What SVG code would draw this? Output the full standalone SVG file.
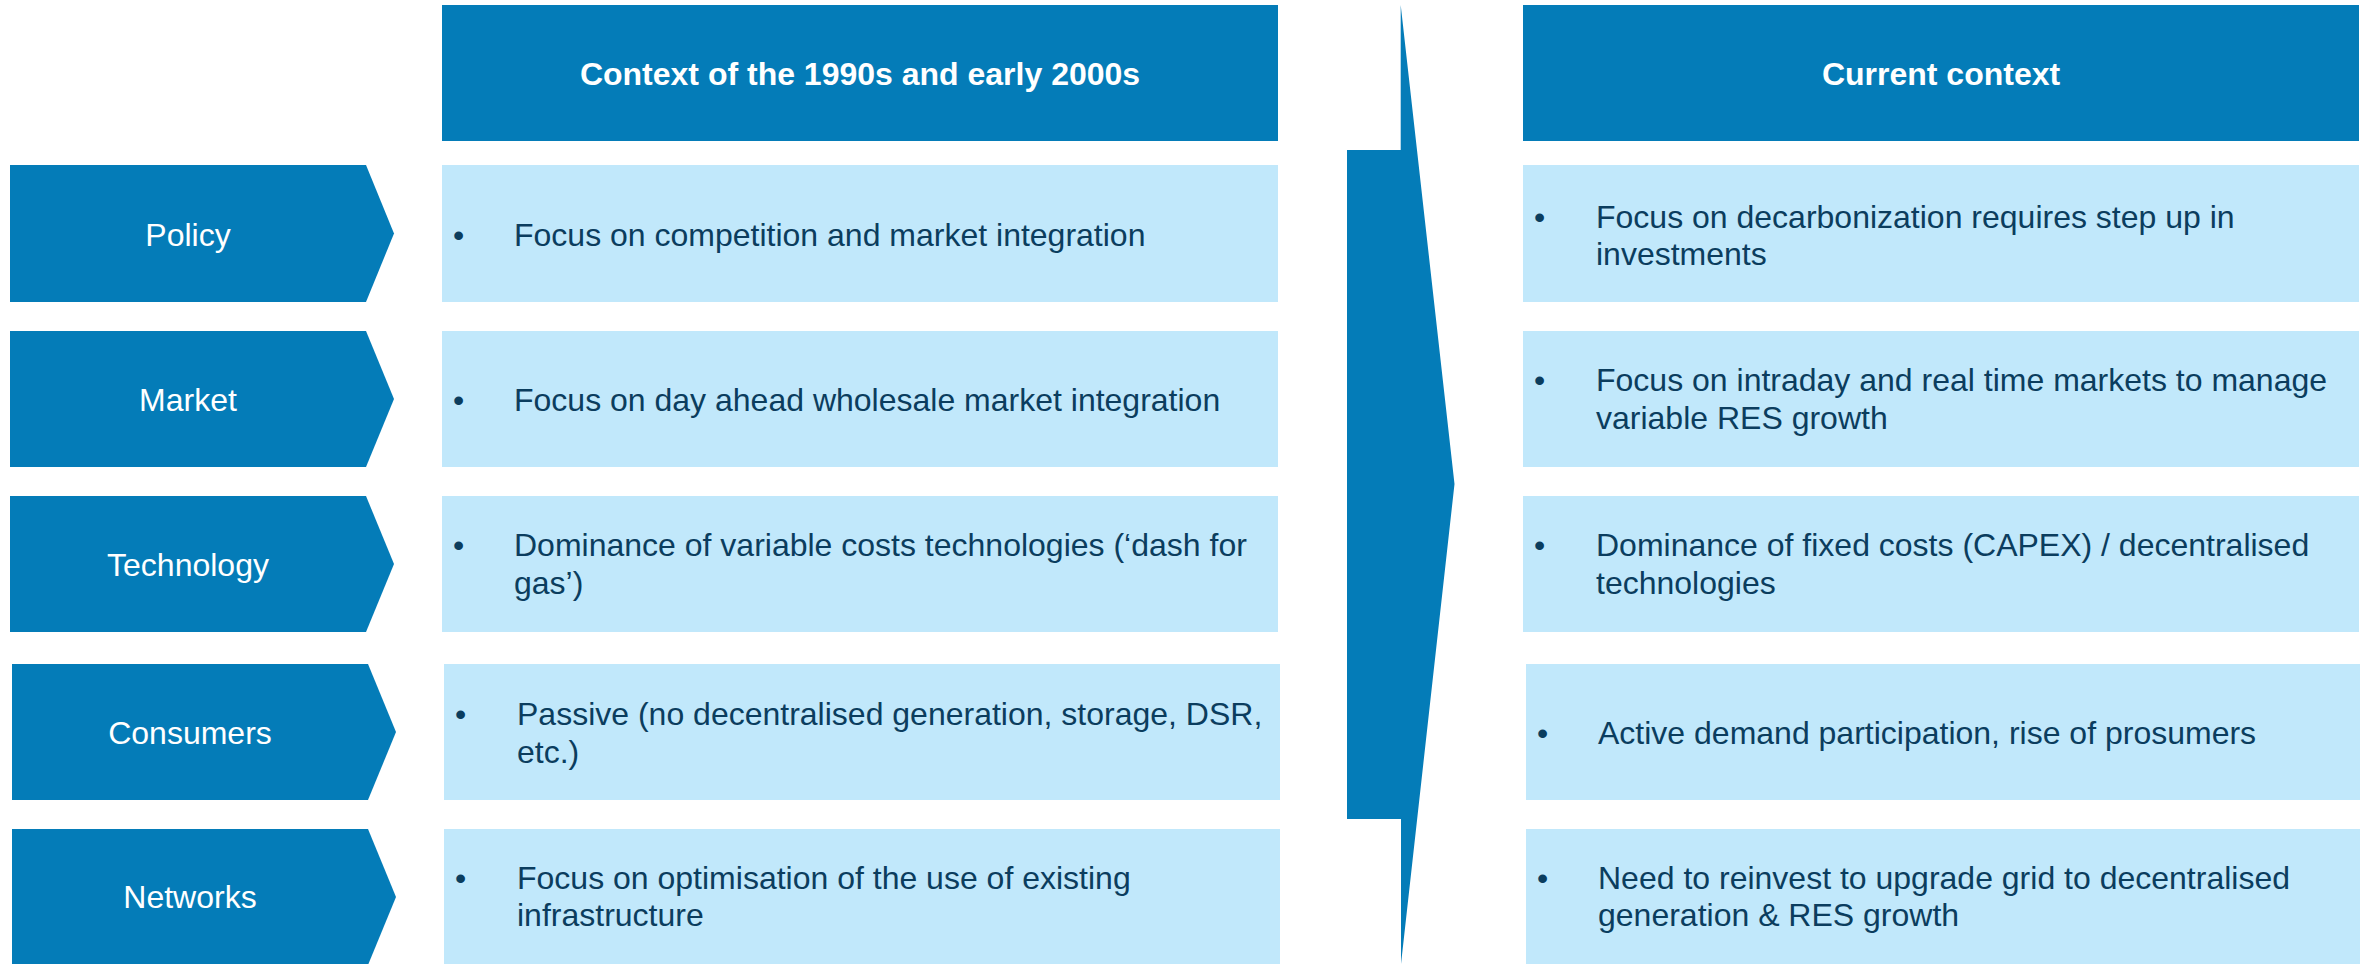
<svg xmlns="http://www.w3.org/2000/svg" width="2362" height="964" viewBox="0 0 2362 964">
  <style>
    .dark { fill: #047cb8; }
    .light { fill: #c1e8fb; }
    .head { font-family: "Liberation Sans", Arial, sans-serif; font-size: 32px; font-weight: bold; fill: #ffffff; text-anchor: middle; }
    .label { font-family: "Liberation Sans", Arial, sans-serif; font-size: 32px; fill: #ffffff; text-anchor: middle; }
    .body { font-family: "Liberation Sans", Arial, sans-serif; font-size: 32px; fill: #0b3d5e; }
  </style>
  <rect width="2362" height="964" fill="#ffffff"/>

  <!-- column headers -->
  <g id="header-past">
    <rect class="dark" x="442" y="5" width="836" height="136"/>
    <text class="head" x="860" y="85">Context of the 1990s and early 2000s</text>
  </g>
  <g id="header-current">
    <rect class="dark" x="1523" y="5" width="836" height="136"/>
    <text class="head" x="1941" y="85">Current context</text>
  </g>

  <!-- transition arrow between the two columns -->
  <g id="connectors">
    <polygon class="dark" points="1347,150 1400.7,150 1400.7,5 1454.5,484 1401,964 1401,819 1347,819"/>
  </g>

  <!-- row: Policy -->
  <g id="policy">
    <polygon class="dark" points="10,165 366,165 394,233.5 366,302 10,302"/>
    <text class="label" x="188" y="246">Policy</text>
  </g>
  <g id="policy-past">
    <rect class="light" x="442" y="165" width="836" height="137"/>
    <text class="body" x="453" y="245.5">•</text>
    <text class="body" x="514" y="245.5">Focus on competition and market integration</text>
  </g>
  <g id="policy-current">
    <rect class="light" x="1523" y="165" width="836" height="137"/>
    <text class="body" x="1534" y="227.5">•</text>
    <text class="body" x="1596" y="227.5">Focus on decarbonization requires step up in</text>
    <text class="body" x="1596" y="265">investments</text>
  </g>

  <!-- row: Market -->
  <g id="market">
    <polygon class="dark" points="10,331 366,331 394,399 366,467 10,467"/>
    <text class="label" x="188" y="411">Market</text>
  </g>
  <g id="market-past">
    <rect class="light" x="442" y="331" width="836" height="136"/>
    <text class="body" x="453" y="411">•</text>
    <text class="body" x="514" y="411">Focus on day ahead wholesale market integration</text>
  </g>
  <g id="market-current">
    <rect class="light" x="1523" y="331" width="836" height="136"/>
    <text class="body" x="1534" y="391">•</text>
    <text class="body" x="1596" y="391">Focus on intraday and real time markets to manage</text>
    <text class="body" x="1596" y="428.5">variable RES growth</text>
  </g>

  <!-- row: Technology -->
  <g id="technology">
    <polygon class="dark" points="10,496 366,496 394,564 366,632 10,632"/>
    <text class="label" x="188" y="576">Technology</text>
  </g>
  <g id="technology-past">
    <rect class="light" x="442" y="496" width="836" height="136"/>
    <text class="body" x="453" y="556">•</text>
    <text class="body" x="514" y="556">Dominance of variable costs technologies (‘dash for</text>
    <text class="body" x="514" y="593.5">gas’)</text>
  </g>
  <g id="technology-current">
    <rect class="light" x="1523" y="496" width="836" height="136"/>
    <text class="body" x="1534" y="556">•</text>
    <text class="body" x="1596" y="556">Dominance of fixed costs (CAPEX) / decentralised</text>
    <text class="body" x="1596" y="593.5">technologies</text>
  </g>

  <!-- row: Consumers -->
  <g id="consumers">
    <polygon class="dark" points="12,664 368,664 396,732 368,800 12,800"/>
    <text class="label" x="190" y="744">Consumers</text>
  </g>
  <g id="consumers-past">
    <rect class="light" x="444" y="664" width="836" height="136"/>
    <text class="body" x="455" y="725">•</text>
    <text class="body" x="517" y="725">Passive (no decentralised generation, storage, DSR,</text>
    <text class="body" x="517" y="762.5">etc.)</text>
  </g>
  <g id="consumers-current">
    <rect class="light" x="1526" y="664" width="834" height="136"/>
    <text class="body" x="1537" y="743.5">•</text>
    <text class="body" x="1598" y="743.5">Active demand participation, rise of prosumers</text>
  </g>

  <!-- row: Networks -->
  <g id="networks">
    <polygon class="dark" points="12,829 368,829 396,897 368,965 12,965"/>
    <text class="label" x="190" y="908">Networks</text>
  </g>
  <g id="networks-past">
    <rect class="light" x="444" y="829" width="836" height="136"/>
    <text class="body" x="455" y="888.5">•</text>
    <text class="body" x="517" y="888.5">Focus on optimisation of the use of existing</text>
    <text class="body" x="517" y="926">infrastructure</text>
  </g>
  <g id="networks-current">
    <rect class="light" x="1526" y="829" width="834" height="136"/>
    <text class="body" x="1537" y="888.5">•</text>
    <text class="body" x="1598" y="888.5">Need to reinvest to upgrade grid to decentralised</text>
    <text class="body" x="1598" y="926">generation &amp; RES growth</text>
  </g>
</svg>
